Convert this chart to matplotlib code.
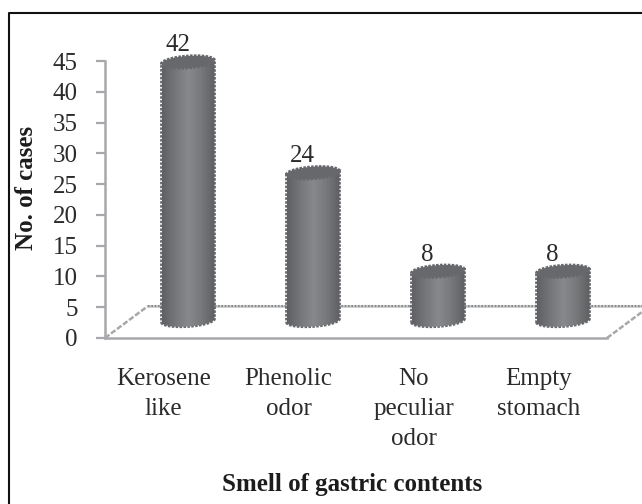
import numpy as np
import matplotlib
matplotlib.use("Agg")
import matplotlib.pyplot as plt
from matplotlib.lines import Line2D
from matplotlib.patches import PathPatch, Polygon
from matplotlib.path import Path
from matplotlib.colors import LinearSegmentedColormap

categories = ["Kerosene\nlike", "Phenolic\nodor", "No\npeculiar\nodor", "Empty\nstomach"]
values = [42, 24, 8, 8]
yticks = [0, 5, 10, 15, 20, 25, 30, 35, 40, 45]
xlabel = "Smell of gastric contents"
ylabel = "No. of cases"

W, H = 642, 504
TXT = "#2b2b2b"
plt.rcParams["font.family"] = ["Liberation Serif", "DejaVu Serif"]
fig = plt.figure(figsize=(W / 100, H / 100), dpi=100, facecolor="white")

# frame: only top and left lines are visible in the crop
fig.add_artist(Line2D([8.5 / W, 8.5 / W, 1], [0, 1 - 13 / H, 1 - 13 / H],
                      transform=fig.transFigure, color="#111111", lw=1.5))

L, R, T, B = 105, 607, 61, 338
ax = fig.add_axes([L / W, 1 - B / H, (R - L) / W, (B - T) / H])
ax.patch.set_alpha(0)
ppx = 125.0
ax.set_xlim((L - 188) / ppx, (R - 188) / ppx)
ax.set_ylim(0, 45)
ux = 1 / ppx
uy = 45 / (B - T)

for s in ["top", "right"]:
    ax.spines[s].set_visible(False)
for s in ["left", "bottom"]:
    ax.spines[s].set_color("#a6a8ab")
    ax.spines[s].set_linewidth(1.8)
ax.set_yticks(yticks)
ax.set_xticks([])
ax.tick_params(axis="y", length=6.5, width=1.6, color="#a6a8ab", labelsize=18,
               labelcolor=TXT, pad=13)

# floor of the 3D scene
x0, x1 = ax.get_xlim()
fy = 32 * uy
fx = 43 * ux
kw = dict(color="#a6a8ab", lw=1.8, ls=(0, (2.2, 0.8)), clip_on=False, zorder=1)
ax.plot([x0, x0 + fx], [0, fy], **kw)
ax.plot([x1, x1 + fx * 0.85], [0, fy * 0.85], **kw)
ax.plot([x0 + fx, x1 + fx * 0.85], [fy, fy], color="#c4c5c7", lw=1.8, clip_on=False, zorder=1)
ax.plot([x0 + fx, x1 + fx * 0.85], [fy, fy], color="#8a8c8e", lw=1.5, ls=(0, (0.8, 0.8)),
        clip_on=False, zorder=1.1)

cmap = LinearSegmentedColormap.from_list("cyl", ["#5f6164", "#747679", "#88898c", "#76787a", "#5f6063"])
grad = np.linspace(0, 1, 64).reshape(1, -1)
half = 26.5 * ux
base = 17.5 * uy
ry = 6.0 * uy
tilt = 3.5 * uy / (2 * half)   # the cylinders lean: right side sits a little higher
for i, v in enumerate(values):
    top = base + v
    left, right = i - half, i + half
    t = np.linspace(0, np.pi, 40)
    xs = i - half * np.cos(t)
    lower = base - ry * np.sin(t) + tilt * (xs - i)
    upper = top + tilt * (right - i)
    upper_l = top + tilt * (left - i)
    verts = np.r_[np.c_[xs, lower], [[right, upper], [left, upper_l]], [[left, lower[0]]]]
    codes = [Path.MOVETO] + [Path.LINETO] * (len(verts) - 1)
    ax.add_patch(PathPatch(Path(verts, codes), fc="none", ec="#686a6d", lw=2.0, ls=(0, (0.9, 0.5)),
                           zorder=3, clip_on=False))
    im = ax.imshow(grad, extent=(left, right, base - 2 * ry, top + ry), cmap=cmap, aspect="auto",
                   zorder=3.1, clip_on=True)
    im.set_clip_path(PathPatch(Path(verts, codes), transform=ax.transData))
    tc = np.linspace(0, 2 * np.pi, 80)
    cx = i + half * np.cos(tc)
    cy = top + ry * np.sin(tc) + tilt * (cx - i)
    ax.add_patch(Polygon(np.c_[cx, cy], closed=True, fc="#66686b", ec="#66686b", lw=2.0,
                         ls=(0, (0.9, 0.5)), zorder=4, clip_on=False))
    ax.text(i - 10.5 * ux, top + 10.5 * uy, str(v), ha="center", va="baseline", fontsize=18,
            color=TXT, zorder=5)
ax.set_xlim(x0, x1)
ax.set_ylim(0, 45)

for i, c in enumerate(categories):
    for j, line in enumerate(c.split("\n")):
        ax.text(i - 24.5 * ux, (B - 385 - 30 * j) * uy, line, ha="center", va="baseline",
                fontsize=18, color=TXT, clip_on=False)

fig.text(352 / W, 1 - 484 / H, xlabel, ha="center", va="center", fontsize=18, fontweight="bold",
         color="#1c1c1c")
fig.text(26.5 / W, 1 - 188 / H, ylabel, ha="center", va="center", rotation=90, fontsize=18,
         fontweight="bold", color="#1c1c1c")

fig.savefig("out.png", dpi=100)
